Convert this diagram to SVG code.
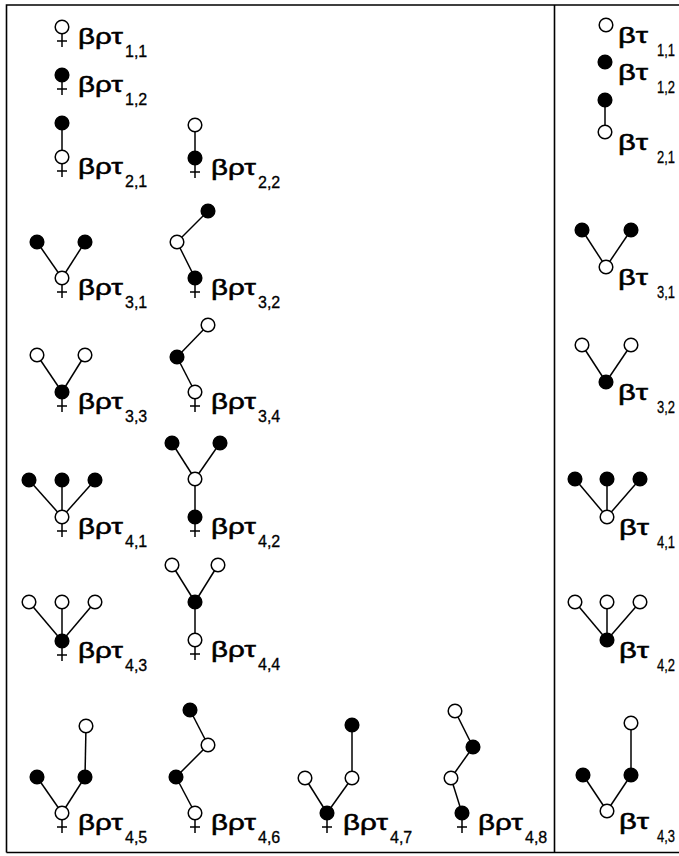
<svg xmlns="http://www.w3.org/2000/svg" width="679" height="856" viewBox="0 0 679 856">
<style>
.o{fill:#fff;stroke:#000;stroke-width:1.5}
.f{fill:#000;stroke:#000;stroke-width:1.5}
.e line,.sx{stroke:#000;stroke-width:1.5;fill:none}
.fr{stroke:#000;stroke-width:1.6;fill:none}
.t{font-family:"Liberation Sans",Arial,sans-serif;font-size:22px;fill:#000;stroke:#000;stroke-width:0.5}
.s{font-family:"Liberation Sans",Arial,sans-serif;font-size:16px;fill:#000;stroke:#000;stroke-width:0.3}
</style>
<rect width="679" height="856" fill="#fff"/>
<path class="fr" d="M6.5,852.5 V5 H679 M6.5,852.5 H679 M554.5,5 V852.5"/>
<g id="connectors" class="e">
<line x1="62" y1="123" x2="62" y2="157"/>
<line x1="195" y1="125" x2="195" y2="158"/>
<line x1="37" y1="242" x2="62" y2="278"/><line x1="85" y1="242" x2="62" y2="278"/>
<line x1="208" y1="211" x2="177" y2="242"/><line x1="177" y1="242" x2="195" y2="278"/>
<line x1="37" y1="355" x2="62" y2="392"/><line x1="85" y1="355" x2="62" y2="392"/>
<line x1="208" y1="325" x2="177" y2="357"/><line x1="177" y1="357" x2="195" y2="392"/>
<line x1="29" y1="480" x2="62" y2="517"/><line x1="62" y1="480" x2="62" y2="517"/><line x1="95" y1="480" x2="62" y2="517"/>
<line x1="172" y1="443" x2="195" y2="479"/><line x1="220" y1="443" x2="195" y2="479"/><line x1="195" y1="479" x2="195" y2="517"/>
<line x1="29" y1="602" x2="62" y2="641"/><line x1="62" y1="602" x2="62" y2="641"/><line x1="95" y1="602" x2="62" y2="641"/>
<line x1="172" y1="565" x2="195" y2="602"/><line x1="218" y1="565" x2="195" y2="602"/><line x1="195" y1="602" x2="195" y2="640"/>
<line x1="37" y1="777" x2="62" y2="813"/><line x1="85" y1="777" x2="62" y2="813"/><line x1="86" y1="726" x2="85" y2="777"/>
<line x1="190" y1="710" x2="208" y2="745"/><line x1="208" y1="745" x2="176" y2="777"/><line x1="176" y1="777" x2="195" y2="813"/>
<line x1="305" y1="778" x2="327" y2="813"/><line x1="352" y1="778" x2="327" y2="813"/><line x1="352" y1="725" x2="352" y2="778"/>
<line x1="455" y1="711" x2="473" y2="747"/><line x1="473" y1="747" x2="451" y2="778"/><line x1="451" y1="778" x2="462" y2="813"/>
<line x1="605" y1="100" x2="605" y2="132"/>
<line x1="582" y1="230" x2="606" y2="267"/><line x1="631" y1="230" x2="606" y2="267"/>
<line x1="582" y1="345" x2="606" y2="382"/><line x1="631" y1="345" x2="606" y2="382"/>
<line x1="575" y1="479" x2="607" y2="517"/><line x1="607" y1="479" x2="607" y2="517"/><line x1="640" y1="479" x2="607" y2="517"/>
<line x1="575" y1="602" x2="607" y2="640"/><line x1="607" y1="602" x2="607" y2="640"/><line x1="640" y1="602" x2="607" y2="640"/>
<line x1="631" y1="723" x2="631" y2="775"/><line x1="583" y1="775" x2="607" y2="811"/><line x1="631" y1="775" x2="607" y2="811"/>
</g>
<g id="brt11"><circle class="o" cx="62" cy="27" r="6.8"/><path class="sx" d="M62,33.8V47M57,41H67"/><text class="t" x="78" y="44" textLength="45" lengthAdjust="spacingAndGlyphs">βρτ</text><text class="s" x="125" y="57">1,1</text></g>
<g id="brt12"><circle class="f" cx="62" cy="75" r="6.8"/><path class="sx" d="M62,81.8V95M57,89H67"/><text class="t" x="78" y="92" textLength="45" lengthAdjust="spacingAndGlyphs">βρτ</text><text class="s" x="125" y="105">1,2</text></g>
<g id="brt21"><circle class="f" cx="62" cy="123" r="6.8"/><circle class="o" cx="62" cy="157" r="6.8"/><path class="sx" d="M62,163.8V177M57,171H67"/><text class="t" x="78" y="174" textLength="45" lengthAdjust="spacingAndGlyphs">βρτ</text><text class="s" x="125" y="187">2,1</text></g>
<g id="brt22"><circle class="o" cx="195" cy="125" r="6.8"/><circle class="f" cx="195" cy="158" r="6.8"/><path class="sx" d="M195,164.8V178M190,172H200"/><text class="t" x="211" y="175" textLength="45" lengthAdjust="spacingAndGlyphs">βρτ</text><text class="s" x="258" y="188">2,2</text></g>
<g id="brt31"><circle class="f" cx="37" cy="242" r="6.8"/><circle class="f" cx="85" cy="242" r="6.8"/><circle class="o" cx="62" cy="278" r="6.8"/><path class="sx" d="M62,284.8V298M57,292H67"/><text class="t" x="78" y="295" textLength="45" lengthAdjust="spacingAndGlyphs">βρτ</text><text class="s" x="125" y="308">3,1</text></g>
<g id="brt32"><circle class="f" cx="208" cy="211" r="6.8"/><circle class="o" cx="177" cy="242" r="6.8"/><circle class="f" cx="195" cy="278" r="6.8"/><path class="sx" d="M195,284.8V298M190,292H200"/><text class="t" x="211" y="295" textLength="45" lengthAdjust="spacingAndGlyphs">βρτ</text><text class="s" x="258" y="308">3,2</text></g>
<g id="brt33"><circle class="o" cx="37" cy="355" r="6.8"/><circle class="o" cx="85" cy="355" r="6.8"/><circle class="f" cx="62" cy="392" r="6.8"/><path class="sx" d="M62,398.8V412M57,406H67"/><text class="t" x="78" y="409" textLength="45" lengthAdjust="spacingAndGlyphs">βρτ</text><text class="s" x="125" y="422">3,3</text></g>
<g id="brt34"><circle class="o" cx="208" cy="325" r="6.8"/><circle class="f" cx="177" cy="357" r="6.8"/><circle class="o" cx="195" cy="392" r="6.8"/><path class="sx" d="M195,398.8V412M190,406H200"/><text class="t" x="211" y="409" textLength="45" lengthAdjust="spacingAndGlyphs">βρτ</text><text class="s" x="258" y="422">3,4</text></g>
<g id="brt41"><circle class="f" cx="29" cy="480" r="6.8"/><circle class="f" cx="62" cy="480" r="6.8"/><circle class="f" cx="95" cy="480" r="6.8"/><circle class="o" cx="62" cy="517" r="6.8"/><path class="sx" d="M62,523.8V537M57,531H67"/><text class="t" x="78" y="534" textLength="45" lengthAdjust="spacingAndGlyphs">βρτ</text><text class="s" x="125" y="547">4,1</text></g>
<g id="brt42"><circle class="f" cx="172" cy="443" r="6.8"/><circle class="f" cx="220" cy="443" r="6.8"/><circle class="o" cx="195" cy="479" r="6.8"/><circle class="f" cx="195" cy="517" r="6.8"/><path class="sx" d="M195,523.8V537M190,531H200"/><text class="t" x="211" y="534" textLength="45" lengthAdjust="spacingAndGlyphs">βρτ</text><text class="s" x="258" y="547">4,2</text></g>
<g id="brt43"><circle class="o" cx="29" cy="602" r="6.8"/><circle class="o" cx="62" cy="602" r="6.8"/><circle class="o" cx="95" cy="602" r="6.8"/><circle class="f" cx="62" cy="641" r="6.8"/><path class="sx" d="M62,647.8V661M57,655H67"/><text class="t" x="78" y="658" textLength="45" lengthAdjust="spacingAndGlyphs">βρτ</text><text class="s" x="125" y="671">4,3</text></g>
<g id="brt44"><circle class="o" cx="172" cy="565" r="6.8"/><circle class="o" cx="218" cy="565" r="6.8"/><circle class="f" cx="195" cy="602" r="6.8"/><circle class="o" cx="195" cy="640" r="6.8"/><path class="sx" d="M195,646.8V660M190,654H200"/><text class="t" x="211" y="657" textLength="45" lengthAdjust="spacingAndGlyphs">βρτ</text><text class="s" x="258" y="670">4,4</text></g>
<g id="brt45"><circle class="f" cx="37" cy="777" r="6.8"/><circle class="f" cx="85" cy="777" r="6.8"/><circle class="o" cx="86" cy="726" r="6.8"/><circle class="o" cx="62" cy="813" r="6.8"/><path class="sx" d="M62,819.8V833M57,827H67"/><text class="t" x="78" y="830" textLength="45" lengthAdjust="spacingAndGlyphs">βρτ</text><text class="s" x="125" y="843">4,5</text></g>
<g id="brt46"><circle class="f" cx="190" cy="710" r="6.8"/><circle class="o" cx="208" cy="745" r="6.8"/><circle class="f" cx="176" cy="777" r="6.8"/><circle class="o" cx="195" cy="813" r="6.8"/><path class="sx" d="M195,819.8V833M190,827H200"/><text class="t" x="211" y="830" textLength="45" lengthAdjust="spacingAndGlyphs">βρτ</text><text class="s" x="258" y="843">4,6</text></g>
<g id="brt47"><circle class="o" cx="305" cy="778" r="6.8"/><circle class="o" cx="352" cy="778" r="6.8"/><circle class="f" cx="352" cy="725" r="6.8"/><circle class="f" cx="327" cy="813" r="6.8"/><path class="sx" d="M327,819.8V833M322,827H332"/><text class="t" x="343" y="830" textLength="45" lengthAdjust="spacingAndGlyphs">βρτ</text><text class="s" x="390" y="843">4,7</text></g>
<g id="brt48"><circle class="o" cx="455" cy="711" r="6.8"/><circle class="f" cx="473" cy="747" r="6.8"/><circle class="o" cx="451" cy="778" r="6.8"/><circle class="f" cx="462" cy="813" r="6.8"/><path class="sx" d="M462,819.8V833M457,827H467"/><text class="t" x="478" y="830" textLength="45" lengthAdjust="spacingAndGlyphs">βρτ</text><text class="s" x="525" y="843">4,8</text></g>
<g id="bt11"><circle class="o" cx="606" cy="25" r="6.8"/><text class="t" x="618" y="43" textLength="30" lengthAdjust="spacingAndGlyphs">βτ</text><text class="s" x="657" y="56" textLength="18" lengthAdjust="spacingAndGlyphs">1,1</text></g>
<g id="bt12"><circle class="f" cx="605" cy="62" r="6.8"/><text class="t" x="618" y="80" textLength="30" lengthAdjust="spacingAndGlyphs">βτ</text><text class="s" x="657" y="93" textLength="18" lengthAdjust="spacingAndGlyphs">1,2</text></g>
<g id="bt21"><circle class="f" cx="605" cy="100" r="6.8"/><circle class="o" cx="605" cy="132" r="6.8"/><text class="t" x="618" y="150" textLength="30" lengthAdjust="spacingAndGlyphs">βτ</text><text class="s" x="657" y="163" textLength="18" lengthAdjust="spacingAndGlyphs">2,1</text></g>
<g id="bt31"><circle class="f" cx="582" cy="230" r="6.8"/><circle class="f" cx="631" cy="230" r="6.8"/><circle class="o" cx="606" cy="267" r="6.8"/><text class="t" x="618" y="285" textLength="30" lengthAdjust="spacingAndGlyphs">βτ</text><text class="s" x="657" y="298" textLength="18" lengthAdjust="spacingAndGlyphs">3,1</text></g>
<g id="bt32"><circle class="o" cx="582" cy="345" r="6.8"/><circle class="o" cx="631" cy="345" r="6.8"/><circle class="f" cx="606" cy="382" r="6.8"/><text class="t" x="618" y="400" textLength="30" lengthAdjust="spacingAndGlyphs">βτ</text><text class="s" x="657" y="413" textLength="18" lengthAdjust="spacingAndGlyphs">3,2</text></g>
<g id="bt41"><circle class="f" cx="575" cy="479" r="6.8"/><circle class="f" cx="607" cy="479" r="6.8"/><circle class="f" cx="640" cy="479" r="6.8"/><circle class="o" cx="607" cy="517" r="6.8"/><text class="t" x="619" y="535" textLength="30" lengthAdjust="spacingAndGlyphs">βτ</text><text class="s" x="657" y="548" textLength="18" lengthAdjust="spacingAndGlyphs">4,1</text></g>
<g id="bt42"><circle class="o" cx="575" cy="602" r="6.8"/><circle class="o" cx="607" cy="602" r="6.8"/><circle class="o" cx="640" cy="602" r="6.8"/><circle class="f" cx="607" cy="640" r="6.8"/><text class="t" x="619" y="658" textLength="30" lengthAdjust="spacingAndGlyphs">βτ</text><text class="s" x="657" y="671" textLength="18" lengthAdjust="spacingAndGlyphs">4,2</text></g>
<g id="bt43"><circle class="o" cx="631" cy="723" r="6.8"/><circle class="f" cx="631" cy="775" r="6.8"/><circle class="f" cx="583" cy="775" r="6.8"/><circle class="o" cx="607" cy="811" r="6.8"/><text class="t" x="619" y="829" textLength="30" lengthAdjust="spacingAndGlyphs">βτ</text><text class="s" x="657" y="842" textLength="18" lengthAdjust="spacingAndGlyphs">4,3</text></g>
</svg>
